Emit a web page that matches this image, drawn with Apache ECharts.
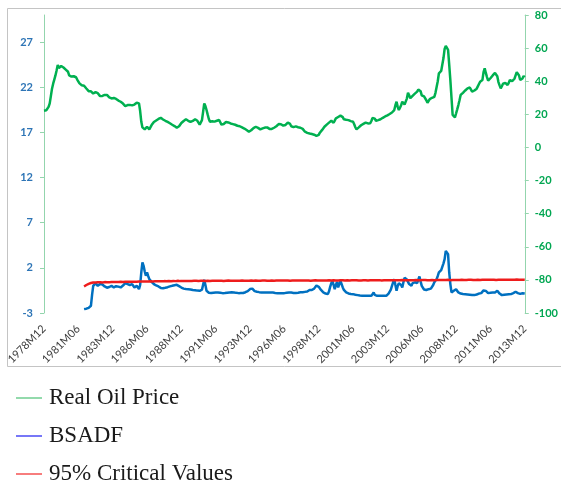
<!DOCTYPE html>
<html><head><meta charset="utf-8">
<script src="https://cdn.jsdelivr.net/npm/echarts@6/dist/echarts.min.js"></script>
<style>html,body{margin:0;padding:0;background:#fff;}#c{width:561px;height:486px;}</style>
</head><body><div id="c"></div>
<script>
// Monthly categories 1978M12 .. 2013M12
const firstYear = 1978, firstMonth = 12, monthCount = 421;
const months = [];
for (let i = 0; i < monthCount; i++) {
  const m = firstMonth - 1 + i;
  const y = firstYear + Math.floor(m / 12);
  const mm = (m % 12) + 1;
  months.push(y + 'M' + (mm < 10 ? '0' : '') + mm);
}
const tickLabels = ['1978M12','1981M06','1983M12','1986M06','1988M12','1991M06','1993M12','1996M06','1998M12','2001M06','2003M12','2006M06','2008M12','2011M06','2013M12'];
const leftTicks = [-3, 2, 7, 12, 17, 22, 27];
const rightTicks = [-100, -80, -60, -40, -20, 0, 20, 40, 60, 80];

// Real oil price (right axis), from 1978M12
const oilPrice = [
22.2,21.8,22.5,22.6,24.5,26.6,31.0,35.5,38.5,41.0,
43.5,46.5,49.8,48.0,47.2,49.2,48.5,48.3,47.8,47.0,
46.4,45.7,43.5,42.4,42.8,43.1,43.0,42.6,42.4,41.0,
39.8,38.7,38.4,37.6,37.9,37.3,36.8,35.6,34.9,34.0,
33.7,33.9,33.0,32.6,32.7,33.4,33.7,32.8,32.0,31.0,
30.6,31.1,31.3,31.7,31.5,31.7,30.8,30.2,29.1,29.6,
29.4,29.9,29.7,29.3,29.1,28.3,28.2,27.6,27.3,26.5,
25.9,25.0,24.6,25.6,26.2,25.7,25.6,25.4,25.7,25.9,
26.5,27.0,27.6,26.6,22.0,15.5,12.1,11.2,10.9,11.8,
12.5,11.3,10.9,12.0,13.5,14.2,15.4,16.1,16.3,16.9,
17.2,17.6,17.9,17.3,16.9,16.3,16.1,15.5,15.4,14.8,
14.6,14.3,13.7,13.5,12.9,12.5,11.9,11.5,12.8,13.9,
14.8,15.6,16.0,16.7,17.0,16.4,16.1,15.9,15.4,15.6,
16.0,16.7,17.0,17.2,16.1,15.0,13.8,12.9,16.5,21.5,
26.6,25.0,22.6,19.8,17.2,15.5,15.2,15.8,15.3,15.6,
15.8,16.1,16.2,16.6,15.2,13.8,13.5,14.2,14.9,15.4,
15.5,15.1,15.0,14.5,14.5,14.1,14.1,13.7,13.6,13.1,
13.1,12.8,12.7,12.1,11.9,11.4,11.2,10.5,10.1,9.5,
9.7,10.4,11.0,11.7,12.1,12.5,12.1,11.8,11.2,10.9,
11.3,11.5,11.9,12.0,11.8,12.1,11.6,11.2,10.9,11.2,
11.4,11.9,12.1,12.8,13.3,14.1,14.6,14.0,13.3,13.2,
12.9,13.6,14.4,15.0,15.5,14.2,12.8,12.1,12.3,12.3,
12.7,12.5,12.2,12.2,11.9,12.0,11.2,10.3,9.5,9.3,
8.8,8.8,8.4,8.5,8.1,8.2,7.7,7.5,7.0,6.9,
7.6,8.9,9.9,10.6,11.7,12.5,13.0,13.8,14.2,15.0,
15.5,16.1,15.5,14.9,16.2,17.6,18.1,18.4,19.0,19.2,
19.6,18.3,17.0,17.0,16.7,16.8,16.5,16.4,15.9,15.9,
15.5,14.0,12.2,10.9,11.4,12.1,12.8,13.4,14.0,14.2,
14.6,15.0,14.6,14.5,14.8,14.6,16.0,17.8,19.0,17.4,
16.1,16.5,16.5,16.9,17.0,17.6,17.9,18.5,18.7,19.1,
19.4,20.0,20.2,20.7,21.1,22.0,22.6,25.5,27.6,24.5,
22.6,24.0,25.5,27.6,26.5,25.9,25.6,29.5,33.1,31.5,
29.7,30.5,31.2,31.7,32.5,33.3,33.7,35.0,36.1,34.0,
31.5,30.6,30.8,30.6,28.5,27.0,28.0,29.2,29.7,30.0,
30.4,30.6,33.0,36.5,40.0,44.8,45.5,46.2,46.8,54.0,
59.5,61.3,60.5,58.9,50.0,40.7,30.0,19.6,18.6,18.2,
20.5,23.0,25.6,28.5,31.7,32.3,33.0,33.7,34.4,35.1,
35.7,35.9,36.2,35.0,33.7,34.0,34.4,34.7,35.5,36.9,
38.3,39.7,40.2,40.7,45.5,47.8,45.0,42.5,40.3,41.0,
41.8,42.7,43.5,44.2,45.0,45.7,43.0,39.5,37.5,35.7,
37.0,38.5,39.7,39.0,38.2,37.7,39.0,40.7,40.3,40.0,
39.7,41.5,43.5,45.5,46.3,43.5,40.7,41.2,41.7,43.1,
42.5
];

// BSADF statistic and 95% critical values (left axis), from 1981M11
const testStart = '1981M11';
const bsadf = [
-2.57,-2.55,-2.52,-2.47,-2.43,-2.38,-2.2,-1.0,0.0,0.2,
0.31,0.12,0.01,0.1,0.2,0.27,0.15,0.02,-0.06,-0.15,
-0.2,-0.25,-0.12,-0.03,0.01,-0.1,-0.17,-0.1,-0.03,0.01,
-0.08,-0.14,-0.17,-0.05,0.04,0.09,0.3,0.45,0.2,0.01,
0.1,0.18,0.2,0.0,-0.17,-0.05,0.01,-0.2,-0.36,0.1,
1.5,2.6,2.22,1.6,1.12,1.49,1.1,0.75,0.6,0.45,
0.35,0.2,0.09,0.05,0.0,-0.06,-0.15,-0.22,-0.28,-0.25,
-0.22,-0.2,-0.17,-0.14,-0.1,-0.05,-0.02,0.01,0.04,0.08,
0.1,0.12,0.05,-0.03,-0.1,-0.18,-0.25,-0.3,-0.36,-0.35,
-0.38,-0.36,-0.36,-0.39,-0.42,-0.45,-0.46,-0.47,-0.5,-0.52,
-0.53,-0.54,-0.48,-0.42,-0.36,0.67,0.1,-0.54,-0.65,-0.75,
-0.8,-0.78,-0.76,-0.75,-0.77,-0.73,-0.72,-0.72,-0.74,-0.76,
-0.79,-0.8,-0.8,-0.78,-0.76,-0.75,-0.73,-0.72,-0.74,-0.71,
-0.72,-0.72,-0.74,-0.77,-0.79,-0.8,-0.81,-0.79,-0.8,-0.78,
-0.8,-0.7,-0.62,-0.58,-0.54,-0.35,-0.17,-0.3,-0.5,-0.58,
-0.62,-0.65,-0.67,-0.69,-0.7,-0.72,-0.71,-0.73,-0.72,-0.74,
-0.72,-0.73,-0.75,-0.72,-0.72,-0.74,-0.76,-0.78,-0.79,-0.8,
-0.81,-0.8,-0.79,-0.8,-0.82,-0.8,-0.78,-0.76,-0.75,-0.73,
-0.72,-0.74,-0.76,-0.78,-0.8,-0.79,-0.77,-0.75,-0.72,-0.7,
-0.68,-0.7,-0.68,-0.66,-0.65,-0.62,-0.55,-0.45,-0.36,-0.45,
-0.54,-0.3,-0.1,0.05,0.09,-0.1,-0.28,-0.45,-0.6,-0.72,
-0.8,-0.85,-0.88,-0.91,-0.6,-0.1,0.3,0.56,0.1,-0.36,
0.1,0.45,-0.17,0.2,0.56,0.2,-0.17,-0.45,-0.65,-0.72,
-0.8,-0.84,-0.88,-0.9,-0.92,-0.91,-0.94,-0.97,-1.0,-1.02,
-1.05,-1.07,-1.09,-1.1,-1.08,-1.1,-1.1,-1.09,-1.1,-1.08,
-1.1,-1.1,-1.05,-0.72,-1.0,-1.1,-1.1,-1.08,-1.1,-1.1,
-1.09,-1.1,-1.08,-1.1,-1.1,-1.0,-0.85,-0.65,-0.4,0.01,
0.4,0.75,0.1,-0.54,0.0,0.3,0.45,0.1,-0.17,0.4,
0.9,0.94,0.7,0.45,0.2,0.05,0.01,0.3,0.45,0.4,
0.35,0.31,0.7,1.05,0.5,0.01,-0.2,-0.4,-0.54,-0.45,
-0.4,-0.36,-0.33,-0.3,-0.28,0.1,0.4,0.6,0.75,1.1,
1.49,1.6,1.75,1.86,2.5,2.96,3.88,3.7,3.52,1.49,
0.2,-0.72,-0.65,-0.54,-0.45,-0.36,-0.5,-0.72,-0.8,-0.85,
-0.88,-0.9,-0.91,-0.92,-0.94,-0.95,-0.97,-0.98,-1.0,-1.01,
-1.02,-1.02,-1.0,-0.95,-0.9,-0.85,-0.82,-0.8,-0.65,-0.5,
-0.36,-0.55,-0.7,-0.8,-0.78,-0.76,-0.75,-0.74,-0.73,-0.72,
-0.6,-0.54,-0.7,-0.85,-0.95,-1.02,-1.0,-0.98,-0.96,-0.95,
-0.94,-0.93,-0.92,-0.91,-0.88,-0.8,-0.72,-0.65,-0.7,-0.8,
-0.91,-0.88,-0.85,-0.82,-0.8,-0.85
];
const criticalValues = [
-0.06,0.02,0.1,0.17,0.23,0.28,0.32,0.35,0.37,0.38,
0.39,0.38,0.4,0.39,0.41,0.4,0.38,0.4,0.42,0.41,
0.4,0.42,0.41,0.43,0.42,0.41,0.43,0.44,0.42,0.43,
0.44,0.43,0.45,0.44,0.43,0.45,0.46,0.44,0.45,0.46,
0.45,0.47,0.46,0.45,0.47,0.48,0.46,0.47,0.48,0.49,
0.48,0.5,0.49,0.48,0.5,0.51,0.49,0.5,0.52,0.51,
0.5,0.52,0.51,0.53,0.52,0.5,0.52,0.53,0.51,0.52,
0.53,0.54,0.52,0.53,0.55,0.54,0.52,0.53,0.55,0.54,
0.53,0.55,0.56,0.54,0.53,0.55,0.54,0.56,0.55,0.53,
0.54,0.56,0.55,0.57,0.55,0.54,0.56,0.55,0.57,0.56,
0.55,0.57,0.56,0.54,0.56,0.57,0.55,0.56,0.58,0.56,
0.55,0.57,0.56,0.58,0.57,0.55,0.56,0.58,0.57,0.56,
0.58,0.57,0.55,0.56,0.58,0.57,0.59,0.57,0.56,0.58,
0.57,0.56,0.58,0.59,0.57,0.56,0.58,0.57,0.59,0.58,
0.56,0.58,0.57,0.59,0.58,0.57,0.59,0.58,0.56,0.58,
0.59,0.57,0.58,0.6,0.58,0.57,0.59,0.58,0.6,0.59,
0.57,0.59,0.58,0.6,0.59,0.57,0.58,0.6,0.59,0.58,
0.6,0.58,0.59,0.61,0.59,0.58,0.6,0.59,0.61,0.6,
0.58,0.6,0.59,0.61,0.6,0.58,0.59,0.61,0.6,0.59,
0.61,0.59,0.6,0.62,0.6,0.59,0.61,0.6,0.58,0.6,
0.61,0.6,0.62,0.6,0.59,0.61,0.6,0.62,0.61,0.59,
0.6,0.62,0.61,0.6,0.62,0.61,0.59,0.61,0.62,0.6,
0.61,0.63,0.61,0.6,0.62,0.61,0.63,0.62,0.6,0.61,
0.62,0.6,0.61,0.63,0.62,0.6,0.62,0.61,0.63,0.62,
0.6,0.62,0.61,0.63,0.62,0.61,0.63,0.62,0.6,0.62,
0.63,0.61,0.62,0.64,0.62,0.61,0.63,0.62,0.64,0.63,
0.61,0.63,0.62,0.64,0.63,0.61,0.62,0.64,0.63,0.62,
0.64,0.62,0.63,0.65,0.63,0.62,0.64,0.63,0.65,0.64,
0.62,0.64,0.63,0.65,0.64,0.62,0.63,0.65,0.64,0.63,
0.65,0.63,0.64,0.66,0.64,0.63,0.65,0.64,0.66,0.65,
0.63,0.65,0.64,0.66,0.65,0.63,0.64,0.66,0.65,0.64,
0.66,0.64,0.65,0.67,0.65,0.64,0.66,0.65,0.67,0.66,
0.64,0.66,0.65,0.67,0.66,0.64,0.65,0.67,0.66,0.65,
0.67,0.65,0.66,0.68,0.66,0.65,0.67,0.66,0.68,0.67,
0.65,0.67,0.66,0.68,0.67,0.65,0.66,0.68,0.67,0.66,
0.68,0.66,0.67,0.69,0.67,0.66,0.68,0.67,0.69,0.68,
0.66,0.68,0.67,0.69,0.68,0.66,0.67,0.69,0.68,0.67,
0.69,0.67,0.68,0.7,0.68,0.67,0.69,0.68,0.7,0.69,
0.67,0.69,0.68,0.7,0.69,0.68
];

const lead = months.indexOf(testStart);
const pad = arr => new Array(lead).fill(null).concat(arr);

const axisGreen = '#93d5ad';
const chart = echarts.init(document.getElementById('c'), null, {renderer: 'canvas'});
chart.setOption({
  animation: false,
  backgroundColor: '#ffffff',
  graphic: [{
    type: 'rect', silent: true, z: -10,
    shape: {x: 7.5, y: 8.5, width: 560, height: 358},
    style: {fill: 'none', stroke: '#c4c4c4', lineWidth: 1}
  }],
  grid: {left: 44, right: 31, top: 15, bottom: 173, containLabel: false},
  legend: {
    orient: 'vertical', left: 16, top: 386, height: 100, padding: 0, icon: 'rect',
    itemWidth: 26, itemHeight: 1.5, itemGap: 14, selectedMode: false,
    textStyle: {fontFamily: 'Liberation Serif', fontSize: 23, color: '#1a1a1a', lineHeight: 24, padding: [0, 0, 0, 2]},
    data: [
      {name: 'Real Oil Price', itemStyle: {color: '#6fce91'}},
      {name: 'BSADF', itemStyle: {color: '#4a4af5'}},
      {name: '95% Critical Values', itemStyle: {color: '#f55252'}}
    ]
  },
  xAxis: {
    type: 'category', data: months, boundaryGap: false,
    axisLine: {show: false}, axisTick: {show: false}, splitLine: {show: false},
    axisLabel: {
      interval: (i, v) => tickLabels.indexOf(v) >= 0,
      rotate: 45, margin: 14, fontFamily: 'Lato', fontSize: 11, color: '#404040'
    }
  },
  yAxis: [{
    type: 'value', position: 'left', min: -3, max: 30,
    splitLine: {show: false},
    axisLine: {show: true, lineStyle: {color: axisGreen, width: 1}},
    axisTick: {show: true, length: 4, customValues: leftTicks, lineStyle: {color: axisGreen}},
    axisLabel: {customValues: leftTicks, margin: 11, color: '#2e75b6', fontFamily: 'Lato', fontSize: 11, fontWeight: 'bold'}
  }, {
    type: 'value', position: 'right', min: -100, max: 80, interval: 20,
    splitLine: {show: false},
    axisLine: {show: true, lineStyle: {color: axisGreen, width: 1}},
    axisTick: {show: true, length: 4, customValues: rightTicks, lineStyle: {color: axisGreen}},
    axisLabel: {customValues: rightTicks, margin: 10, color: '#00a651', fontFamily: 'Lato', fontSize: 11, fontWeight: 'bold'}
  }],
  series: [{
    name: 'Real Oil Price', type: 'line', yAxisIndex: 1, data: oilPrice,
    symbol: 'none', lineStyle: {color: '#00b050', width: 2.5}, itemStyle: {color: '#00b050'}
  }, {
    name: 'BSADF', type: 'line', yAxisIndex: 0, data: pad(bsadf),
    symbol: 'none', lineStyle: {color: '#0070c0', width: 2.5}, itemStyle: {color: '#0070c0'}
  }, {
    name: '95% Critical Values', type: 'line', yAxisIndex: 0, data: pad(criticalValues),
    symbol: 'none', lineStyle: {color: '#ee1c1c', width: 2.5}, itemStyle: {color: '#ee1c1c'}
  }]
});
</script></body></html>
